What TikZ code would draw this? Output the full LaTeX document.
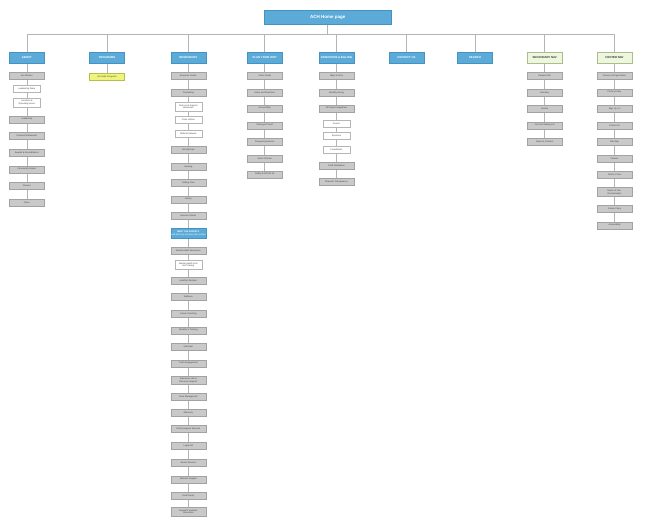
\documentclass[tikz,border=0pt]{standalone}
\usepackage{fontspec}
\setmainfont{Liberation Sans}
\usetikzlibrary{backgrounds}

\definecolor{achblue}{HTML}{5BAAD8}
\definecolor{achblueline}{HTML}{4393C3}
\definecolor{pagegrey}{HTML}{C9C9C9}
\definecolor{pageline}{HTML}{A2A2A2}
\definecolor{wireline}{HTML}{B4B4B4}
\definecolor{navgreen}{HTML}{EEF6DD}
\definecolor{navline}{HTML}{A9BE8C}
\definecolor{progyellow}{HTML}{EEF47C}
\definecolor{progline}{HTML}{B8BE4A}

\tikzset{
  home/.style={draw=achblueline, fill=achblue, minimum width=127pt, minimum height=14pt,
    inner sep=0pt, text=white, font=\fontsize{4.5}{5}\selectfont\bfseries},
  section/.style={draw=achblueline, fill=achblue, minimum width=35pt, minimum height=11pt,
    inner sep=0pt, text=white, font=\fontsize{2.8}{3.2}\selectfont\bfseries},
  navsection/.style={section, draw=navline, fill=navgreen, text=black!80},
  page/.style={draw=pageline, fill=pagegrey, minimum width=35pt, minimum height=7pt,
    inner sep=0pt, text=black!75, font=\fontsize{2.2}{2.6}\selectfont, align=center},
  tall/.style={minimum height=8.7pt},
  subpage/.style={page, draw=pageline!80, fill=white, minimum width=27pt},
  program/.style={page, draw=progline, fill=progyellow},
  feature/.style={page, draw=achblueline, fill=achblue, text=white, minimum height=10pt},
  wire/.style={draw=wireline, line width=0.5pt},
}

\begin{document}
\begin{tikzpicture}[x=1pt, y=-1pt]
  \useasboundingbox (0,0) rectangle (648,526);

  % Home and sections
  \node[home] (home) at (327.7, 17.3) {ACH Home page};
  \coordinate (bus) at (327.7, 34.5);

  \node[section] (about) at (26.8, 57.8) {ABOUT};
  \node[section] (programs) at (107, 57.8) {PROGRAMS};
  \node[section] (resources) at (188.3, 57.8) {RESOURCES};
  \node[section] (visit) at (264.7, 57.8) {PLAN YOUR VISIT};
  \node[section] (giving) at (336.5, 57.8) {DONATIONS \& BILLING};
  \node[section] (contact) at (406.5, 57.8) {CONTACT US};
  \node[section] (search) at (475, 57.8) {SEARCH};
  \node[navsection] (secondary) at (544.7, 57.8) {SECONDARY NAV};
  \node[navsection] (footer) at (614.5, 57.8) {FOOTER NAV};

  % About
  \node[page] (a1) at (26.8, 75.7) {Our Mission};
  \node[subpage] (a2) at (26.8, 89) {Leadership Team};
  \node[subpage, tall] (a3) at (26.8, 102.7) {Locations \&\\Operating Hours};
  \node[page] (a4) at (26.8, 119.3) {Leadership};
  \node[page] (a5) at (26.8, 136) {Financial Statements};
  \node[page] (a6) at (26.8, 152.5) {Awards \& Accreditations};
  \node[page] (a7) at (26.8, 169.3) {Community Impact};
  \node[page] (a8) at (26.8, 186) {Careers};
  \node[page] (a9) at (26.8, 202.5) {Press};

  % Programs
  \node[program] (p1) at (107, 76.5) {Life Skills Programs};

  % Resources
  \node[page] (r1) at (188.3, 75.7) {Resource Center};
  \node[page] (r2) at (188.3, 92.7) {Counseling};
  \node[subpage, tall] (r3) at (188.3, 106.7) {Find Local Support\\Resources};
  \node[subpage] (r4) at (188.3, 120) {Crisis Hotline};
  \node[subpage] (r5) at (188.3, 133.3) {Referral Network};
  \node[page] (r6) at (188.3, 150) {Scholarships};
  \node[page] (r7) at (188.3, 166.7) {Housing};
  \node[page] (r8) at (188.3, 182.7) {Getting Care};
  \node[page] (r9) at (188.3, 199.3) {Library};
  \node[page] (r10) at (188.3, 216) {Success Stories};
  \node[feature] (r11) at (188.3, 233.3) {\textbf{MEET THE EXPERTS}\\Staff directory and specialist profiles};
  \node[page] (r12) at (188.3, 250.7) {Mental Health Resources};
  \node[subpage, tall] (r13) at (188.3, 265) {Mental Health First\\Aid Training};
  \node[page] (r14) at (188.3, 280.7) {Healthy Lifestyles};
  \node[page] (r15) at (188.3, 297) {Wellness};
  \node[page] (r16) at (188.3, 313.7) {Career Coaching};
  \node[page] (r17) at (188.3, 330.3) {Workforce Training};
  \node[page] (r18) at (188.3, 347) {Volunteer};
  \node[page] (r19) at (188.3, 363.3) {Youth Engagement};
  \node[page, tall] (r20) at (188.3, 380.3) {Substance Use \&\\Recovery Support};
  \node[page] (r21) at (188.3, 396.5) {Case Management};
  \node[page] (r22) at (188.3, 412.7) {Advocacy};
  \node[page] (r23) at (188.3, 429) {Family Support Services};
  \node[page] (r24) at (188.3, 446) {Legal Aid};
  \node[page] (r25) at (188.3, 462.7) {Senior Services};
  \node[page] (r26) at (188.3, 479.3) {Veterans Support};
  \node[page] (r27) at (188.3, 496) {Food Pantry};
  \node[page, tall] (r28) at (188.3, 511.7) {Domestic Violence\\Prevention};

  % Plan your visit
  \node[page] (v1) at (264.7, 76) {Visitor Guide};
  \node[page] (v2) at (264.7, 92.7) {Hours and Directions};
  \node[page] (v3) at (264.7, 108.3) {Accessibility};
  \node[page] (v4) at (264.7, 125.3) {Parking \& Transit};
  \node[page] (v5) at (264.7, 141.7) {Frequent Questions};
  \node[page] (v6) at (264.7, 158.3) {Visitor Policies};
  \node[page] (v7) at (264.7, 174.3) {Safety \& COVID-19};

  % Donations and billing
  \node[page] (g1) at (336.5, 76) {Ways to Give};
  \node[page] (g2) at (336.5, 92.7) {Monthly Giving};
  \node[page] (g3) at (336.5, 108.3) {All Project Supporters};
  \node[subpage] (g4) at (336.5, 123.3) {Donors};
  \node[subpage] (g5) at (336.5, 135.7) {Sponsors};
  \node[subpage] (g6) at (336.5, 149.3) {Foundations};
  \node[page] (g7) at (336.5, 165.7) {Fund Distribution};
  \node[page] (g8) at (336.5, 182) {Financial Transparency};

  % Secondary nav
  \node[page] (s1) at (544.7, 76) {Request Info};
  \node[page] (s2) at (544.7, 92.7) {Volunteer};
  \node[page] (s3) at (544.7, 108.3) {Donate};
  \node[page] (s4) at (544.7, 125.3) {Join Our Mailing List};
  \node[page] (s5) at (544.7, 142) {Report a Concern};

  % Footer nav
  \node[page] (f1) at (614.5, 75.7) {Careers at Organization};
  \node[page] (f2) at (614.5, 92.3) {Privacy Policy};
  \node[page] (f3) at (614.5, 109) {Sign Up / In};
  \node[page] (f4) at (614.5, 125.3) {Contact Us};
  \node[page] (f5) at (614.5, 142) {Site Map};
  \node[page] (f6) at (614.5, 158.7) {Careers};
  \node[page] (f7) at (614.5, 175) {Terms of Use};
  \node[page, tall] (f8) at (614.5, 192) {Notice of Non-\\Discrimination};
  \node[page] (f9) at (614.5, 208.7) {Cookie Policy};
  \node[page] (f10) at (614.5, 225.3) {Accessibility};

  % Connectors
  \begin{pgfonlayer}{background}
    \draw[wire] (home) -- (bus);
    \draw[wire] (about|-bus) -- (footer|-bus);
    \foreach \s/\e in {about/a9, programs/p1, resources/r28, visit/v7, giving/g8,
      contact/contact, search/search, secondary/s5, footer/f10}
      \draw[wire] (\s|-bus) -- (\e);
  \end{pgfonlayer}
\end{tikzpicture}
\end{document}
